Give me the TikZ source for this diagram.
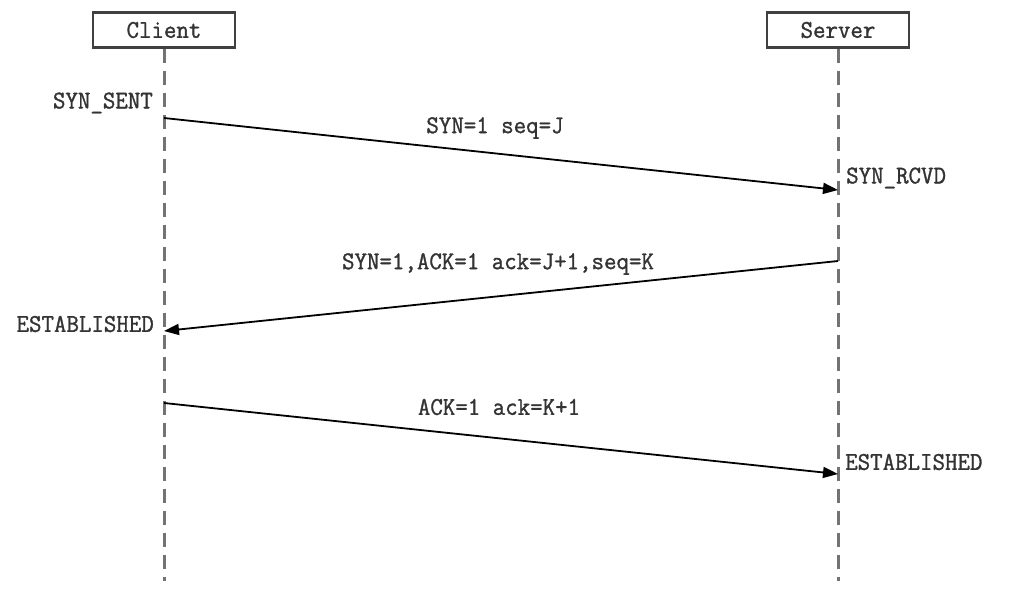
\documentclass[tikz,border=0pt]{standalone}
\usepackage{fontspec}
\setmonofont{Latin Modern Mono}[FakeStretch=0.95,FakeBold=1.2]
\usetikzlibrary{arrows.meta}
\newcommand\lblfont{\ttfamily\fontsize{25.5}{28}\selectfont}
\begin{document}
\begin{tikzpicture}[x=1pt,y=-1pt,
  actor/.style={draw=black!75, line width=2.2pt, minimum width=142pt, minimum height=35pt, inner sep=0pt, font=\lblfont, text=black!80},
  lifeline/.style={draw=black!55, line width=3pt, dash pattern=on 14pt off 8pt},
  msg/.style={draw=black, line width=1.8pt, -{Triangle[length=15pt,width=11pt]}},
  lbl/.style={font=\lblfont, inner sep=0pt, text=black!80}]
\useasboundingbox (0,0) rectangle (1028,614);
\node[actor] (client) at (164,30) {Client};
\node[actor] (server) at (838,30) {Server};
\coordinate (cend) at (164,581);
\coordinate (send) at (838,581);
\draw[lifeline] (client.south) -- (cend);
\draw[lifeline] (server.south) -- (send);
\coordinate (c1) at (164,118); \coordinate (s1) at (838,190);
\coordinate (s2) at (838,261); \coordinate (c2) at (164,331);
\coordinate (c3) at (164,403); \coordinate (s3) at (838,474);
\draw[msg] (c1) -- (s1);
\draw[msg] (s2) -- (c2);
\draw[msg] (c3) -- (s3);
\node[lbl, anchor=east] (synsent) at (153,103) {SYN\_SENT};
\node[lbl, anchor=west] (synrcvd) at (846,178) {SYN\_RCVD};
\node[lbl, anchor=east] (estc) at (154,324) {ESTABLISHED};
\node[lbl, anchor=west] (ests) at (845,462) {ESTABLISHED};
\node[lbl] (m1) at (495,128) {SYN=1 seq=J};
\node[lbl] (m2) at (498,264) {SYN=1,ACK=1 ack=J+1,seq=K};
\node[lbl] (m3) at (499,407) {ACK=1 ack=K+1};
\end{tikzpicture}
\end{document}
